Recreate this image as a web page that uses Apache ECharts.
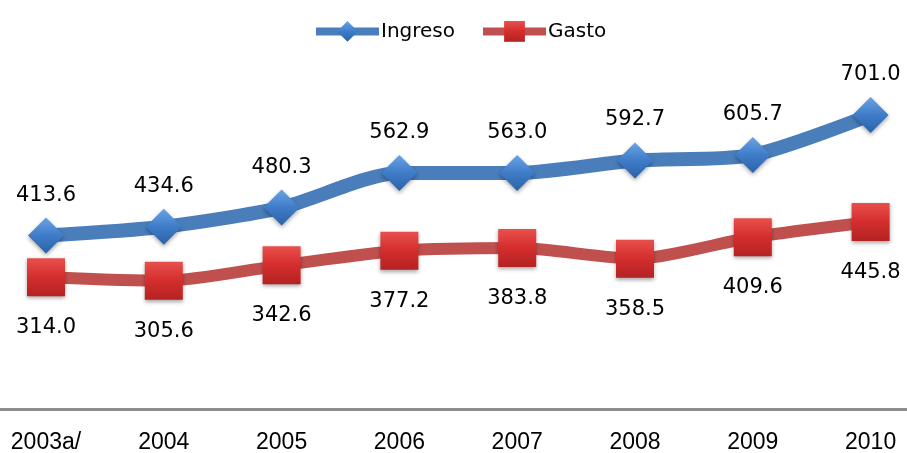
<!DOCTYPE html>
<html><head><meta charset="utf-8">
<script src="https://cdn.jsdelivr.net/npm/echarts@6/dist/echarts.min.js"></script>
<style>html,body{margin:0;padding:0;background:#fff}#c{width:907px;height:453px}</style>
</head><body><div id="c"></div>
<script>
const categories = ['2003a/', '2004', '2005', '2006', '2007', '2008', '2009', '2010'];
const ingreso = [413.6, 434.6, 480.3, 562.9, 563.0, 592.7, 605.7, 701.0];
const gasto = [314.0, 305.6, 342.6, 377.2, 383.8, 358.5, 409.6, 445.8];

const chart = echarts.init(document.getElementById('c'), null, {renderer: 'canvas'});
const blueGrad = new echarts.graphic.LinearGradient(0, 0, 0, 1, [
  {offset: 0, color: '#6aa3e6'}, {offset: 0.5, color: '#3f7cc8'}, {offset: 1, color: '#2a62a8'}]);
const redGrad = new echarts.graphic.LinearGradient(0, 0, 0, 1, [
  {offset: 0, color: '#e8504c'}, {offset: 0.5, color: '#d42d2d'}, {offset: 1, color: '#b42222'}]);
const lblFont = '"DejaVu Sans", sans-serif';
chart.setOption({
  animation: false,
  legend: {
    top: 21, left: 312, padding: 0,
    itemWidth: 63, itemHeight: 26, itemGap: 24,
    lineStyle: {width: 8},
    textStyle: {fontFamily: lblFont, fontSize: 20, color: '#000', padding: [0, 0, 0, -3]},
    data: ['Ingreso', 'Gasto']
  },
  grid: {left: -12.9, right: -22.5, top: 31.6, bottom: 44, outerBoundsMode: 'none', containLabel: false},
  xAxis: {
    type: 'category', data: categories, boundaryGap: true,
    axisLine: {lineStyle: {color: '#8c8c8c', width: 3}},
    axisTick: {show: false},
    axisLabel: {margin: 22, fontFamily: '"Liberation Sans", Arial, sans-serif', fontSize: 23, color: '#000'}
  },
  yAxis: {type: 'value', min: 0, max: 900, show: false, splitLine: {show: false}},
  series: [
    {
      name: 'Ingreso', type: 'line', data: ingreso, smooth: 0.25,
      symbol: 'diamond', symbolSize: 36,
      lineStyle: {color: '#4a7ebb', width: 14},
      itemStyle: {color: blueGrad, shadowBlur: 4, shadowColor: 'rgba(0,0,0,0.35)', shadowOffsetY: 2},
      label: {show: true, position: 'top', distance: 12, fontFamily: lblFont, fontSize: 21, color: '#000',
        formatter: p => p.value.toFixed(1)},
      z: 3
    },
    {
      name: 'Gasto', type: 'line', data: gasto, smooth: 0.25,
      symbol: 'rect', symbolSize: 38,
      lineStyle: {color: '#c0504d', width: 12},
      itemStyle: {color: redGrad, shadowBlur: 4, shadowColor: 'rgba(0,0,0,0.35)', shadowOffsetY: 2},
      label: {show: true, position: 'bottom', distance: 21, fontFamily: lblFont, fontSize: 21, color: '#000',
        formatter: p => p.value.toFixed(1)},
      z: 2
    }
  ]
});
</script></body></html>
